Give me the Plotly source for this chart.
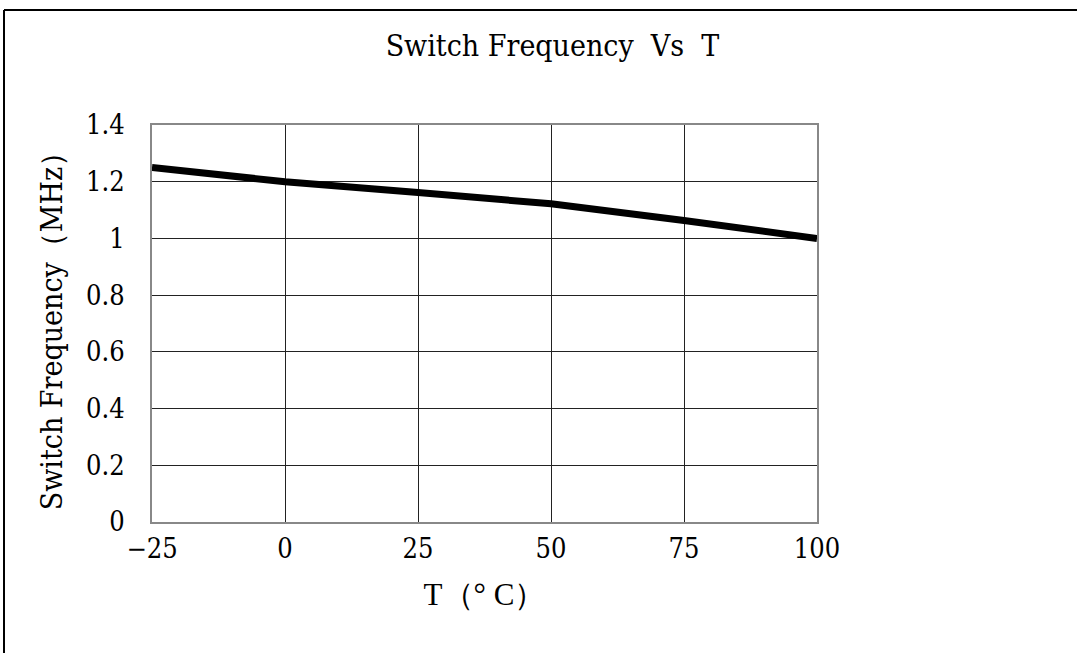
import plotly.graph_objects as go

temps = [-25, 0, 25, 50, 75, 100]
freq_mhz = [1.25, 1.20, 1.162, 1.122, 1.063, 1.0]

x_ticks = [-25, 0, 25, 50, 75, 100]
x_ticktext = ["\u221225", "0", "25", "50", "75", "100"]
y_ticks = [0, 0.2, 0.4, 0.6, 0.8, 1.0, 1.2, 1.4]
y_ticktext = ["0", "0.2", "0.4", "0.6", "0.8", "1", "1.2", "1.4"]

FONT = "DejaVu Serif Condensed"

fig = go.Figure()
fig.add_trace(go.Scatter(x=temps, y=freq_mhz, mode="lines",
                         line=dict(color="black", width=7), showlegend=False))

fig.update_layout(
    width=1077, height=653,
    margin=dict(l=152, r=260, t=125, b=131),
    paper_bgcolor="white", plot_bgcolor="white",
    font=dict(family=FONT, color="black", size=27),
    title=dict(text="Switch Frequency\u00a0\u00a0Vs\u00a0\u00a0T", x=0.513, xanchor="center",
               y=1 - 45 / 653, yanchor="middle",
               font=dict(family=FONT, size=30)),
    xaxis=dict(range=[-25, 100], tickvals=x_ticks, ticktext=x_ticktext,
               showgrid=True, gridcolor="#222", gridwidth=1,
               showline=True, linecolor="#888", linewidth=2, mirror=True,
               zeroline=False, ticks="", ticklabelstandoff=2,
               tickfont=dict(family=FONT, size=27),
               title=dict(text="T\uff08\u00b0 C\uff09", standoff=20,
                          font=dict(family="Liberation Serif", size=31))),
    yaxis=dict(range=[0, 1.4], tickvals=y_ticks, ticktext=y_ticktext,
               showgrid=True, gridcolor="#222", gridwidth=1,
               showline=True, linecolor="#888", linewidth=2, mirror=True,
               zeroline=True, zerolinecolor="#333", zerolinewidth=2,
               ticks="", ticklabelstandoff=20,
               tickfont=dict(family=FONT, size=27),
               title=dict(text="Switch Frequency\uff08MHz\uff09", standoff=14,
                          font=dict(family=FONT, size=30))),
)

# outer frame (top and left edges)
fig.add_shape(type="line", xref="paper", yref="paper",
              x0=(4 - 152) / 665, x1=(1090 - 152) / 665,
              y0=(522 - 10) / 397, y1=(522 - 10) / 397,
              line=dict(color="black", width=2))
fig.add_shape(type="line", xref="paper", yref="paper",
              x0=(4 - 152) / 665, x1=(4 - 152) / 665,
              y0=(522 - 10) / 397, y1=(522 - 670) / 397,
              line=dict(color="black", width=2))

fig.write_html("out.html", config={"displayModeBar": False},
               post_script="document.body.style.margin='0px';document.body.style.overflow='hidden';")
